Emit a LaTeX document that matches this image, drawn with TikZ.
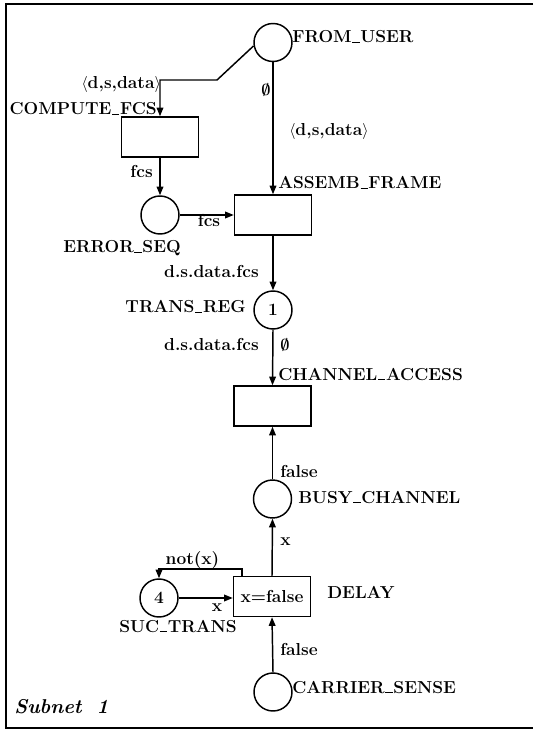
\documentclass[tikz,border=0pt]{standalone}
\usepackage{amsmath}
\usetikzlibrary{arrows.meta}
\newcommand{\usc}{\kern0.04em\rule[-0.1pt]{0.42em}{0.75pt}\kern0.04em}
\begin{document}
\begin{tikzpicture}[x=0.75pt,y=-0.75pt,
  every node/.style={font=\fontsize{13}{15}\selectfont\bfseries},
  place/.style={draw,circle,line width=1.1pt,minimum size=28.5pt,inner sep=0pt},
  trans/.style={draw,rectangle,line width=1.1pt,minimum width=57.75pt,minimum height=30pt,inner sep=0pt},
  lab/.style={inner sep=0pt},
  arc/.style={line width=1.1pt,-{Triangle[length=6.5pt,width=5pt]}},
  frameline/.style={line width=1.4pt}]
\useasboundingbox (0,0) rectangle (533,730);
\draw[frameline] (533,4) -- (6,4) -- (6,728) -- (533,728);

% places and transitions
\node[place] (FU) at (273,42.5) {};
\node[trans] (CF) at (160,137) {};
\node[place] (ES) at (160,215) {};
\node[trans] (AF) at (273,215) {};
\node[place] (TR) at (273,310) {1};
\node[trans] (CA) at (272.5,406) {};
\node[place] (BC) at (272.5,499) {};
\node[trans] (DL) at (272,596.5) {x=false};
\node[place] (ST) at (159,598) {4};
\node[place] (CS) at (273,692) {};

% place/transition names
\node[lab,anchor=base west] (nFU) at (292,43) {FROM\usc USER};
\node[lab,anchor=base east] (nCF) at (157,115) {COMPUTE\usc FCS};
\node[lab,anchor=base west] (nAF) at (278,189) {ASSEMB\usc FRAME};
\node[lab,anchor=base] (nES) at (122,253) {ERROR\usc SEQ};
\node[lab,anchor=base east] (nTR) at (246,313) {TRANS\usc REG};
\node[lab,anchor=base west] (nCA) at (278,380) {CHANNEL\usc ACCESS};
\node[lab,anchor=base west] (nBC) at (298,503) {BUSY\usc CHANNEL};
\node[lab,anchor=base west] (nDL) at (327,598) {DELAY};
\node[lab,anchor=base] (nST) at (178,632) {SUC\usc TRANS};
\node[lab,anchor=base west] (nCS) at (292,693) {CARRIER\usc SENSE};
\node[lab,anchor=base west,font=\fontsize{15}{17}\selectfont\bfseries\itshape] (sub) at (14,713) {Subnet\hspace{0.75em}1};

% connectors
\coordinate (b1) at (217,80);
\draw[arc] (FU.190) -- (b1) -| (CF.north);
\draw[arc] (FU.south) -- (AF.north);
\draw[arc] (CF.south) -- (ES.north);
\draw[arc] (ES.east) -- (AF.west);
\draw[arc] (AF.south) -- (TR.north);
\draw[arc] (TR.south) -- (CA.north);
\draw[arc] (BC.north) -- (CA.south);
\draw[arc] (DL.north) -- (BC.south);
\draw[arc] (ST.east) -- (ST.east -| DL.west);
\draw[arc] (CS.north) -- (DL.south);
\coordinate (lp) at (242,569);
\draw[arc] (lp |- DL.north) -- (lp) -| (ST.north);

% arc inscriptions
\node[lab,anchor=base east] (i1) at (161,89) {$\langle$d,s,data$\rangle$};
\node[lab,anchor=base] (i2) at (266,96) {$\boldsymbol{\emptyset}$};
\node[lab,anchor=base west] (i3) at (289,136) {$\langle$d,s,data$\rangle$};
\node[lab,anchor=base east] (i4) at (153,178) {fcs};
\node[lab,anchor=base] (i5) at (209,227) {fcs};
\node[lab,anchor=base east] (i6) at (259,278) {d.s.data.fcs};
\node[lab,anchor=base east] (i7) at (259,350) {d.s.data.fcs};
\node[lab,anchor=base] (i8) at (285,350) {$\boldsymbol{\emptyset}$};
\node[lab,anchor=base west] (i9) at (280,477) {false};
\node[lab,anchor=base west] (i10) at (280,545) {x};
\node[lab,anchor=base] (i11) at (192.5,564) {not(x)};
\node[lab,anchor=base] (i12) at (217,611) {x};
\node[lab,anchor=base west] (i13) at (280,655) {false};
\end{tikzpicture}
\end{document}
